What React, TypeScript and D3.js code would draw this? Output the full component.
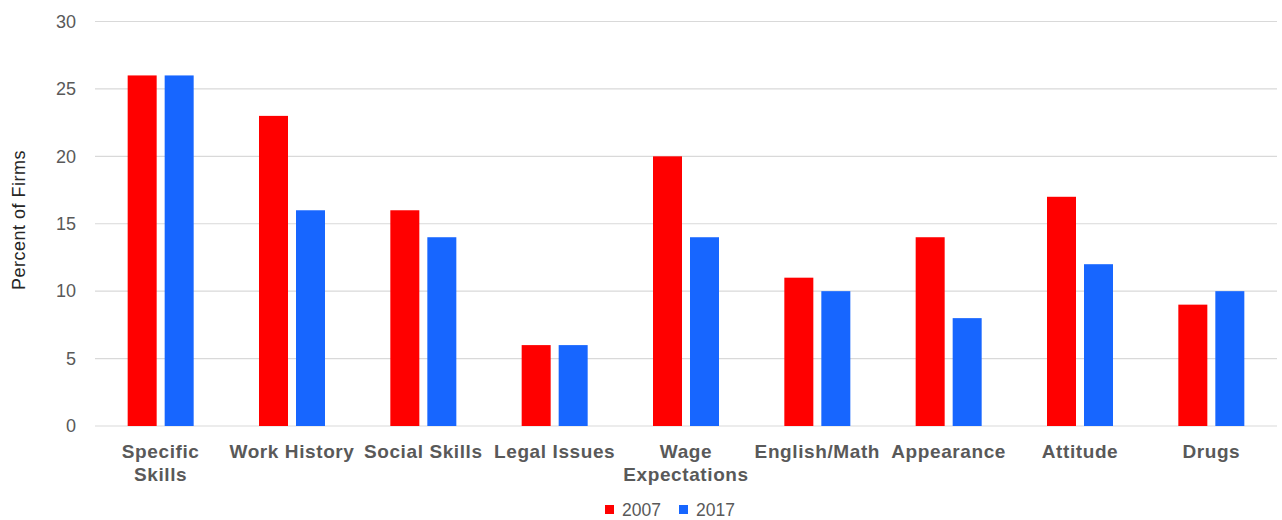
import React from "react";
import * as d3 from "d3";

const categories = [
  "Specific Skills",
  "Work History",
  "Social Skills",
  "Legal Issues",
  "Wage Expectations",
  "English/Math",
  "Appearance",
  "Attitude",
  "Drugs",
];
const categoryLines: string[][] = [
  ["Specific", "Skills"],
  ["Work History"],
  ["Social Skills"],
  ["Legal Issues"],
  ["Wage", "Expectations"],
  ["English/Math"],
  ["Appearance"],
  ["Attitude"],
  ["Drugs"],
];
const seriesNames = ["2007", "2017"];
const values2007 = [26, 23, 16, 6, 20, 11, 14, 17, 9];
const values2017 = [26, 16, 14, 6, 14, 10, 8, 12, 10];
const yTicks = [0, 5, 10, 15, 20, 25, 30];
const colors = ["#ff0000", "#1766ff"];

const W = 1282;
const H = 520;
const left = 95;
const right = 1277;
const top = 21.5;
const bottom = 426;

export default function App() {
  const x0 = d3.scaleBand<string>().domain(categories).range([left, right]).padding(0);
  const x1 = d3
    .scaleBand<string>()
    .domain(seriesNames)
    .range([-33, 33])
    .paddingInner(8 / 37)
    .paddingOuter(0);
  const y = d3.scaleLinear().domain([0, 30]).range([bottom, top]);
  const data = [values2007, values2017];
  const font = "'Liberation Sans', Arial, sans-serif";

  return (
    <svg
      width={W}
      height={H}
      style={{ position: "absolute", left: 0, top: 0, background: "#fff" }}
    >
      <rect x={0} y={0} width={W} height={H} fill="#fff" />
      {yTicks.map((t) => (
        <g key={t}>
          <line x1={left} x2={right} y1={y(t)} y2={y(t)} stroke="#d9d9d9" strokeWidth={1.2} />
          <text
            x={76}
            y={y(t)}
            dy="0.35em"
            textAnchor="end"
            fontFamily={font}
            fontSize={18}
            fill="#595959"
          >
            {t}
          </text>
        </g>
      ))}
      {categories.map((c, ci) => {
        const cx = (x0(c) as number) + x0.bandwidth() / 2;
        return (
          <g key={c}>
            {seriesNames.map((s, si) => (
              <rect
                key={s}
                x={cx + (x1(s) as number)}
                width={x1.bandwidth()}
                y={y(data[si][ci])}
                height={y(0) - y(data[si][ci])}
                fill={colors[si]}
              />
            ))}
            {categoryLines[ci].map((ln, li) => (
              <text
                key={li}
                x={cx}
                y={458 + li * 22.5}
                textAnchor="middle"
                fontFamily={font}
                fontWeight="bold"
                fontSize={19}
                letterSpacing={0.6}
                fill="#595959"
              >
                {ln}
              </text>
            ))}
          </g>
        );
      })}
      <text
        transform={`translate(25, 220) rotate(-90)`}
        textAnchor="middle"
        fontFamily={font}
        fontSize={18}
        letterSpacing={0.5}
        fill="#262626"
      >
        Percent of Firms
      </text>
      {seriesNames.map((s, si) => (
        <g key={s} transform={`translate(${605 + si * 74}, 0)`}>
          <rect x={0} y={505} width={9} height={9} fill={colors[si]} />
          <text
            x={17}
            y={516}
            fontFamily={font}
            fontSize={17.5}
            fill="#595959"
          >
            {s}
          </text>
        </g>
      ))}
    </svg>
  );
}
